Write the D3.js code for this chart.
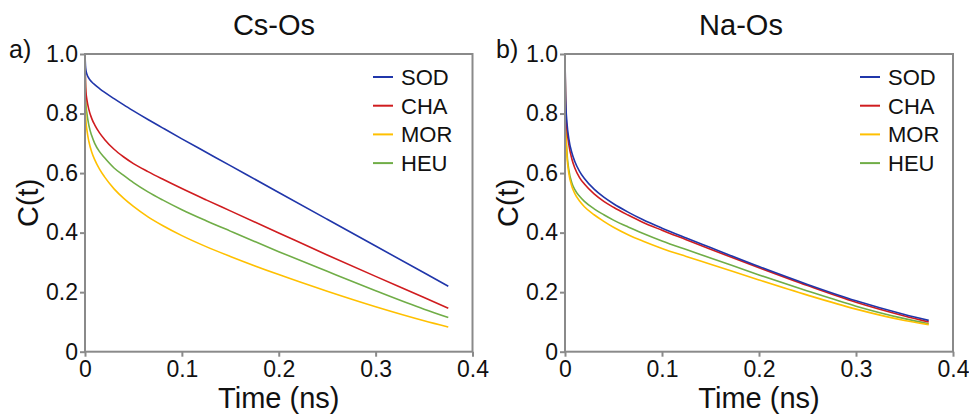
<!DOCTYPE html>
<html>
<head>
<meta charset="utf-8">
<script src="https://cdn.jsdelivr.net/npm/d3@7"></script>
<style>
    body { margin: 0; background: #fff; }
    svg { font-family: "Liberation Sans", Arial, Helvetica, sans-serif; }
</style>
</head>
<body>
<div id="chart"></div>
<script>
// Time points (ns) shared by every curve
const timeNs = [0, 0.0005, 0.001, 0.002, 0.004, 0.007, 0.01, 0.015, 0.02, 0.03, 0.04, 0.05, 0.065, 0.08, 0.1, 0.125, 0.15, 0.2, 0.25, 0.3, 0.35, 0.375];

// Cs-Os C(t)
const csSOD = [1, 0.96, 0.945, 0.932, 0.918, 0.906, 0.897, 0.884, 0.872, 0.850, 0.829, 0.809, 0.780, 0.752, 0.715, 0.670, 0.625, 0.535, 0.445, 0.355, 0.265, 0.22];
const csCHA = [1, 0.905, 0.872, 0.846, 0.813, 0.783, 0.762, 0.735, 0.714, 0.68, 0.654, 0.632, 0.605, 0.58, 0.548, 0.51, 0.473, 0.399, 0.325, 0.253, 0.182, 0.146];
const csMOR = [1, 0.82, 0.774, 0.744, 0.706, 0.67, 0.645, 0.613, 0.588, 0.547, 0.515, 0.488, 0.453, 0.424, 0.39, 0.353, 0.32, 0.259, 0.203, 0.151, 0.104, 0.083];
const csHEU = [1, 0.87, 0.83, 0.80, 0.76, 0.725, 0.70, 0.672, 0.652, 0.617, 0.592, 0.568, 0.537, 0.51, 0.477, 0.44, 0.405, 0.336, 0.27, 0.205, 0.143, 0.115];

// Na-Os C(t)
const naSOD = [1, 0.87, 0.82, 0.77, 0.714, 0.669, 0.64, 0.606, 0.582, 0.546, 0.519, 0.497, 0.469, 0.444, 0.415, 0.382, 0.35, 0.286, 0.226, 0.171, 0.125, 0.105];
const naCHA = [1, 0.86, 0.80, 0.748, 0.695, 0.648, 0.618, 0.585, 0.563, 0.53, 0.505, 0.485, 0.459, 0.435, 0.408, 0.376, 0.344, 0.282, 0.222, 0.166, 0.12, 0.10];
const naMOR = [1, 0.81, 0.73, 0.66, 0.598, 0.556, 0.532, 0.506, 0.487, 0.46, 0.438, 0.418, 0.393, 0.372, 0.347, 0.32, 0.294, 0.241, 0.19, 0.143, 0.105, 0.091];
const naHEU = [1, 0.82, 0.74, 0.67, 0.61, 0.568, 0.545, 0.522, 0.505, 0.48, 0.46, 0.442, 0.419, 0.398, 0.372, 0.343, 0.315, 0.258, 0.204, 0.153, 0.111, 0.094];

const seriesNames = ["SOD", "CHA", "MOR", "HEU"];
const seriesColors = ["#2036aa", "#d01c1f", "#ffc000", "#70ad47"];
const xTicks = [0, 0.1, 0.2, 0.3, 0.4];
const yTicks = [0, 0.2, 0.4, 0.6, 0.8, 1.0];

const width = 969;
const height = 420;

const svg = d3.select("#chart").append("svg")
    .attr("width", width)
    .attr("height", height);

const fmt = d => d === 0 ? "0" : d.toFixed(1);

// Draw one panel
function drawPanel(opts) {
    const x = d3.scaleLinear().domain([0, 0.4]).range([opts.left, opts.right]);
    const y = d3.scaleLinear().domain([0, 1]).range([351.7, 54]);

    const g = svg.append("g");

    // axes (ticks + labels only, frame drawn separately)
    const xAxis = g.append("g")
        .attr("transform", `translate(0, ${y(0)})`)
        .call(d3.axisBottom(x).tickValues(xTicks).tickFormat(fmt).tickSize(5).tickPadding(4));
    const yAxis = g.append("g")
        .attr("transform", `translate(${x(0)}, 0)`)
        .call(d3.axisLeft(y).tickValues(yTicks).tickFormat(fmt).tickSize(5).tickPadding(2));

    [xAxis, yAxis].forEach(ax => {
        ax.attr("font-size", null).attr("font-family", null);
        ax.select(".domain").remove();
        ax.selectAll(".tick line").attr("stroke", "#8a8a8a").attr("stroke-width", 2);
        ax.selectAll(".tick text")
            .attr("fill", "#111")
            .style("font-size", "23px");
    });

    // curves
    const line = d3.line()
        .x((d, i) => x(timeNs[i]))
        .y(d => y(d))
        .curve(d3.curveMonotoneX);

    const order = [3, 2, 1, 0];
    order.forEach(k => {
        g.append("path")
            .datum(opts.series[k])
            .attr("d", line)
            .attr("fill", "none")
            .attr("stroke", seriesColors[k])
            .attr("stroke-width", 1.6);
    });

    // frame
    g.append("rect")
        .attr("x", x(0))
        .attr("y", y(1))
        .attr("width", x(0.4) - x(0))
        .attr("height", y(0) - y(1))
        .attr("fill", "none")
        .attr("stroke", "#8a8a8a")
        .attr("stroke-width", 2);

    // legend
    const legend = g.append("g");
    seriesNames.forEach((name, i) => {
        const ly = 77 + i * 28.7;
        legend.append("line")
            .attr("x1", opts.legendX)
            .attr("x2", opts.legendX + 20)
            .attr("y1", ly)
            .attr("y2", ly)
            .attr("stroke", seriesColors[i])
            .attr("stroke-width", 2);
        legend.append("text")
            .attr("x", opts.legendX + 28)
            .attr("y", ly + 8)
            .style("font-size", "22px")
            .attr("fill", "#111")
            .text(name);
    });

    // titles and labels
    g.append("text")
        .attr("x", opts.titleX)
        .attr("y", 35)
        .attr("text-anchor", "middle")
        .style("font-size", "29px")
        .attr("fill", "#111")
        .text(opts.title);

    g.append("text")
        .attr("x", opts.tagX)
        .attr("y", 58)
        .style("font-size", "25px")
        .attr("fill", "#111")
        .text(opts.tag);

    g.append("text")
        .attr("x", (x(0) + x(0.4)) / 2)
        .attr("y", 408)
        .attr("text-anchor", "middle")
        .style("font-size", "29px")
        .attr("fill", "#111")
        .text("Time (ns)");

    g.append("text")
        .attr("transform", `translate(${opts.left - 47}, ${(y(0) + y(1)) / 2}) rotate(-90)`)
        .attr("text-anchor", "middle")
        .style("font-size", "29px")
        .attr("fill", "#111")
        .text("C(t)");
}

drawPanel({
    left: 85, right: 472.5, title: "Cs-Os", titleX: 274, tag: "a)", tagX: 9,
    legendX: 373, series: [csSOD, csCHA, csMOR, csHEU]
});

drawPanel({
    left: 565, right: 953, title: "Na-Os", titleX: 741, tag: "b)", tagX: 496,
    legendX: 860, series: [naSOD, naCHA, naMOR, naHEU]
});
</script>
</body>
</html>
